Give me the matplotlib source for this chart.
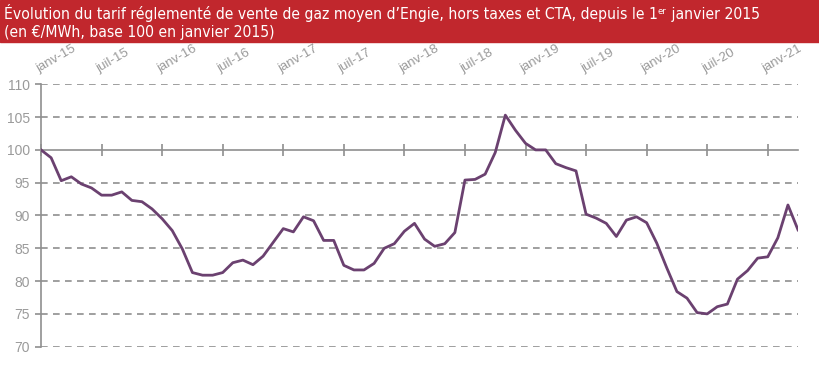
import matplotlib.pyplot as plt
import numpy as np
from matplotlib.patches import Rectangle
from matplotlib import font_manager as fm
from matplotlib.transforms import blended_transform_factory

# indice mensuel, base 100 en janvier 2015 (janv-15 -> avr-21)
tarif = [
    100.0, 98.8, 95.3, 95.9, 94.8, 94.2, 93.1, 93.1, 93.6, 92.3, 92.1, 91.0,
    89.5, 87.7, 84.9, 81.3, 80.9, 80.9, 81.3, 82.8, 83.2, 82.5, 83.8, 85.9,
    88.0, 87.5, 89.8, 89.2, 86.2, 86.2, 82.4, 81.7, 81.7, 82.7, 85.0, 85.7,
    87.6, 88.8, 86.4, 85.3, 85.7, 87.4, 95.4, 95.5, 96.3, 99.6, 105.3, 103.0,
    101.0, 100.0, 100.0, 97.9, 97.3, 96.8, 90.2, 89.6, 88.8, 86.8, 89.3, 89.8,
    88.9, 85.8, 82.0, 78.4, 77.4, 75.2, 75.0, 76.1, 76.5, 80.3, 81.6, 83.5,
    83.7, 86.6, 91.6, 87.8,
]
tick_labels = ['janv-15', 'juil-15', 'janv-16', 'juil-16', 'janv-17', 'juil-17',
               'janv-18', 'juil-18', 'janv-19', 'juil-19', 'janv-20', 'juil-20',
               'janv-21']
y_ticks = [70, 75, 80, 85, 90, 95, 100, 105, 110]

title_1 = "Évolution du tarif réglementé de vente de gaz moyen d’Engie, hors taxes et CTA, depuis le 1"
title_sup = "er"
title_2 = " janvier 2015"
title_3 = "(en €/MWh, base 100 en janvier 2015)"


def pick_title_font():
    for fam, stretch in [('Liberation Sans Narrow', 'normal'),
                         ('DejaVu Sans', 'condensed'),
                         ('Roboto', 'condensed')]:
        try:
            path = fm.findfont(fm.FontProperties(family=fam, stretch=stretch),
                               fallback_to_default=False)
            if 'ondensed' in path or 'arrow' in path:
                return fm.FontProperties(fname=path)
        except Exception:
            pass
    return fm.FontProperties(family='Liberation Sans')


def main() -> None:
    fig = plt.figure(figsize=(8.19, 3.71), dpi=100)
    ax = fig.add_axes([0.0501, 0.0655, 0.9243, 0.7073])

    months = np.arange(len(tarif))
    grey = '#8f8f8f'

    # grille en pointillés (sauf 100, qui porte l'axe des x)
    for v in y_ticks:
        if v != 100:
            ax.axhline(v, color=grey, lw=1.2, ls=(0, (4, 3.2)), zorder=1)

    ax.plot(months, tarif, color='#6b4170', lw=2.0, zorder=3)

    ax.set_xlim(0, len(tarif) - 1)
    ax.set_ylim(70, 110)

    for side in ['top', 'right']:
        ax.spines[side].set_visible(False)
    ax.spines['bottom'].set_position(('data', 100))
    ax.spines['bottom'].set_color(grey)
    ax.spines['bottom'].set_linewidth(1.2)
    ax.spines['left'].set_color(grey)
    ax.spines['left'].set_linewidth(1.2)

    ax.set_yticks(y_ticks)
    ax.tick_params(axis='y', colors=grey, length=4, width=1.2, pad=4,
                   labelsize=10)
    for lab in ax.get_yticklabels():
        lab.set_fontfamily('Liberation Sans')
        lab.set_color('#9a9a9a')

    ticks = np.arange(0, len(tarif), 6)
    ax.set_xticks(ticks)
    ax.tick_params(axis='x', bottom=True, top=False, labelbottom=False,
                   direction='inout', length=8, width=1.2, colors=grey)
    trans = blended_transform_factory(ax.transData, ax.transAxes)
    for t, lab in zip(ticks, tick_labels):
        ax.text(t - 0.1, 1.034, lab, transform=trans, rotation=30,
                rotation_mode='anchor', ha='left', va='bottom',
                fontsize=9.5, family='Liberation Sans', color='#9a9a9a')

    # bandeau de titre
    fig.patches.append(Rectangle((0, 1 - 42 / 371), 1, 42 / 371,
                                 transform=fig.transFigure,
                                 color='#c1272d', zorder=0))
    fp = pick_title_font()
    size = 12.5
    x0 = 4 / 819
    y1 = 1 - 19 / 371
    y2 = 1 - 37 / 371
    fig.canvas.draw()
    r = fig.canvas.get_renderer()
    t1 = fig.text(x0, y1, title_1, color='white', fontproperties=fp,
                  fontsize=size, va='baseline')
    # ajuster la taille pour que la ligne 1 finisse vers 762 px
    w = t1.get_window_extent(r).width
    t2 = fig.text(0, 0, title_2, color='white', fontproperties=fp,
                  fontsize=size, va='baseline')
    ts = fig.text(0, 0, title_sup, color='white', fontproperties=fp,
                  fontsize=size * 0.6, va='baseline')
    total = w + t2.get_window_extent(r).width + ts.get_window_extent(r).width
    size = size * min(1.0, (762 - 4) / total)
    for t in (t1, t2):
        t.set_fontsize(size)
    ts.set_fontsize(size * 0.6)
    b1 = t1.get_window_extent(r)
    ts.set_position((b1.x1 / 819, y1 + 5 / 371))
    bs = ts.get_window_extent(r)
    t2.set_position((bs.x1 / 819, y1))
    fig.text(x0, y2, title_3, color='white', fontproperties=fp,
             fontsize=size, va='baseline')

    fig.savefig('out.png', dpi=100)
    return None


if __name__ == "__main__":
    main()
